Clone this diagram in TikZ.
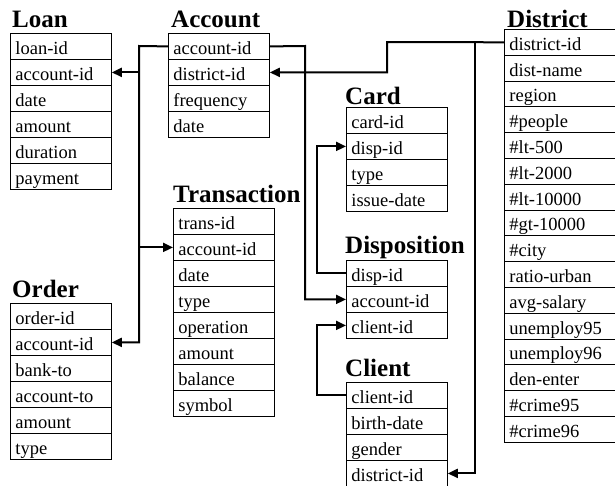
\documentclass[tikz,border=0pt]{standalone}
\usepackage{fontspec}
\setmainfont{Liberation Serif}
\usetikzlibrary{arrows.meta}

\begin{document}
\begin{tikzpicture}[x=1pt,y=-1pt,
    field/.style={draw,line width=0.8pt,anchor=north west,inner xsep=5pt,inner ysep=0pt,
      text width=91pt,align=left,minimum height=26pt,text height=19pt,text depth=3pt,
      font=\fontsize{18.5}{20}\selectfont},
    title/.style={anchor=base west,inner sep=0pt,font=\fontsize{25}{27}\selectfont\bfseries},
    link/.style={line width=2pt,-{Triangle[length=10pt,width=9pt]}}]
  \useasboundingbox (0,0) rectangle (615,485);

  % tables
  \node[title] (loanT) at (12,27) {Loan};
  \foreach \t [count=\i] in {loan-id,account-id,date,amount,duration,payment}
    \node[field] (loan\i) at (10,{33+26*(\i-1)}) {\t};

  \node[title] (accT) at (171,27) {Account};
  \foreach \t [count=\i] in {account-id,district-id,frequency,date}
    \node[field] (acc\i) at (168,{33+26*(\i-1)}) {\t};

  \node[title] (distT) at (507,27) {District};
  \foreach \t [count=\i] in {district-id,dist-name,region,\#people,\#lt-500,\#lt-2000,\#lt-10000,
      \#gt-10000,\#city,ratio-urban,avg-salary,unemploy95,unemploy96,den-enter,\#crime95,\#crime96}
    \node[field,text width=102pt,minimum height=25.8pt] (dist\i) at (504,{29+25.8*(\i-1)}) {\t};

  \node[title] (cardT) at (345,104) {Card};
  \foreach \t [count=\i] in {card-id,disp-id,type,issue-date}
    \node[field] (card\i) at (346,{107+26*(\i-1)}) {\t};

  \node[title] (transT) at (173,202) {Transaction};
  \foreach \t [count=\i] in {trans-id,account-id,date,type,operation,amount,balance,symbol}
    \node[field] (trans\i) at (173,{208+26*(\i-1)}) {\t};

  \node[title] (dispT) at (345,253) {Disposition};
  \foreach \t [count=\i] in {disp-id,account-id,client-id}
    \node[field] (disp\i) at (346,{260+26*(\i-1)}) {\t};

  \node[title] (orderT) at (12,297) {Order};
  \foreach \t [count=\i] in {order-id,account-id,bank-to,account-to,amount,type}
    \node[field] (order\i) at (10,{303+26*(\i-1)}) {\t};

  \node[title] (clientT) at (345,376) {Client};
  \foreach \t [count=\i] in {client-id,birth-date,gender,district-id}
    \node[field] (client\i) at (346,{382+26*(\i-1)}) {\t};

  % links
  \coordinate (accL) at (139,46);
  \coordinate (accR) at (305,46);
  \coordinate (distJ) at (387,42);
  \coordinate (distK) at (475,42);

  \draw[link] (acc1.west) -- (accL) |- (order2.east);
  \draw[link] (accL |- loan2.east) -- (loan2.east);
  \draw[link] (accL |- trans2.west) -- (trans2.west);
  \draw[link] (acc1.east) -- (accR) |- (disp2.west);
  \draw[link] (dist1.west) -- (distJ) |- (acc2.east);
  \draw[link] (distK) |- (client4.east);
  \draw[link] (disp1.west) -- ++(-29,0) |- (card2.west);
  \draw[link] (client1.west) -- ++(-29,0) |- (disp3.west);
\end{tikzpicture}
\end{document}
